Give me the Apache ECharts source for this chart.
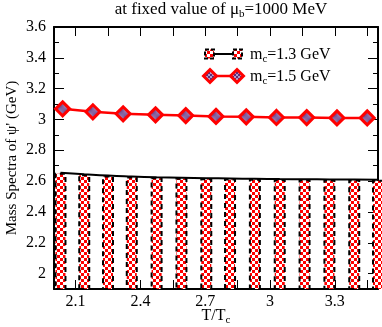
<!DOCTYPE html>
<html>
<head>
<meta charset="utf-8">
<script src="https://cdn.jsdelivr.net/npm/echarts@6/dist/echarts.min.js"></script>
<style>html,body{margin:0;padding:0;background:#fff;}#c{width:382px;height:327px;}</style>
</head>
<body>
<div id="c"></div>
<script>
// Data
const xBlack = [2.03, 2.14, 2.25, 2.36, 2.475, 2.59, 2.705, 2.815, 2.93, 3.045, 3.16, 3.275, 3.39, 3.5];
const yBlack = [2.655, 2.645, 2.636, 2.63, 2.625, 2.622, 2.619, 2.617, 2.615, 2.613, 2.612, 2.611, 2.61, 2.609];
const xRed = [2.04, 2.18, 2.32, 2.47, 2.61, 2.75, 2.89, 3.03, 3.17, 3.31, 3.45];
const yRed = [3.069, 3.05, 3.037, 3.03, 3.025, 3.02, 3.017, 3.013, 3.012, 3.01, 3.01];
const seriesNames = ['m_c=1.3 GeV', 'm_c=1.5 GeV'];
const titleText = 'at fixed value of μ_b=1000 MeV';

function checker(c1, c2, s) {
  const cv = document.createElement('canvas');
  cv.width = s * 2; cv.height = s * 2;
  const g = cv.getContext('2d');
  g.fillStyle = c2; g.fillRect(0, 0, s * 2, s * 2);
  g.fillStyle = c1; g.fillRect(0, 0, s, s); g.fillRect(s, s, s, s);
  return cv;
}
const redChk = { image: checker('#ff0000', '#ffffff', 3), repeat: 'repeat' };
const purpChk = { image: checker('#5a2d7a', '#b49cc8', 2), repeat: 'repeat' };

const FONT = 'Liberation Serif';
const chart = echarts.init(document.getElementById('c'), null, { renderer: 'canvas' });

function sub(s) { // convert a_b into rich text
  return s.replace(/_(\w)/, '{s|$1}');
}

const commonX = {
  type: 'value', min: 2.0, max: 3.5, splitNumber: 5,
  axisLine: { show: true, onZero: false, lineStyle: { color: '#000', width: 2 } },
  axisTick: { show: true, inside: true, length: 9, lineStyle: { color: '#000', width: 1 } },
  minorTick: { show: true, splitNumber: 2, length: 9, lineStyle: { color: '#000', width: 1 } },
  splitLine: { show: false }
};
const commonY = {
  type: 'value', min: 1.9, max: 3.6, splitNumber: 8,
  axisLine: { show: true, onZero: false, lineStyle: { color: '#000', width: 2 } },
  axisTick: { show: true, inside: true, length: 10, lineStyle: { color: '#000', width: 1 } },
  minorTick: { show: true, splitNumber: 2, length: 5, lineStyle: { color: '#000', width: 1 } },
  splitLine: { show: false }
};
const SUBRICH = { s: { fontFamily: FONT, fontSize: 11, padding: [9, 0, 0, 0], color: '#000' } };

const option = {
  animation: false,
  backgroundColor: '#fff',
  textStyle: { fontFamily: FONT },
  grid: { left: 54, right: 4, top: 27, bottom: 38, outerBoundsMode: 'none', containLabel: false },
  title: {
    text: sub(titleText), left: 216, textAlign: 'center', top: -5,
    textStyle: { fontFamily: FONT, fontSize: 17, fontWeight: 'normal', color: '#000', rich: SUBRICH }
  },
  xAxis: [
    Object.assign({}, commonX, {
      position: 'bottom',
      name: 'T/T{s|c}', nameLocation: 'middle', nameGap: 17, nameMoveOverlap: false,
      nameTextStyle: { fontFamily: FONT, fontSize: 16, color: '#000', rich: SUBRICH },
      axisLabel: { fontFamily: FONT, fontSize: 16, color: '#000', margin: 5, showMinLabel: false, showMaxLabel: false,
        formatter: v => String(Math.round(v * 10) / 10) }
    }),
    Object.assign({}, commonX, { position: 'top', axisLabel: { show: false } })
  ],
  yAxis: [
    Object.assign({}, commonY, {
      position: 'left',
      name: "Mass Spectra of ψ' (GeV)", nameLocation: 'middle', nameGap: 34, nameMoveOverlap: false,
      nameTextStyle: { fontFamily: FONT, fontSize: 15, color: '#000' },
      axisLabel: { fontFamily: FONT, fontSize: 16, color: '#000', margin: 8, showMinLabel: false,
        formatter: v => String(Math.round(v * 10) / 10) }
    }),
    Object.assign({}, commonY, { position: 'right', axisLabel: { show: false } })
  ],
  series: [
    {
      name: seriesNames[0] + ' columns', type: 'bar', xAxisIndex: 0, yAxisIndex: 0,
      barWidth: 12, clip: true,
      data: xBlack.map((x, i) => [x, yBlack[i]]),
      itemStyle: { color: redChk, borderColor: '#000', borderWidth: 2, borderType: [5, 4] },
      z: 1
    },
    {
      name: seriesNames[0], type: 'line', xAxisIndex: 0, yAxisIndex: 0,
      data: xBlack.map((x, i) => [x, yBlack[i]]), smooth: true,
      showSymbol: false, lineStyle: { color: '#000', width: 2 }, z: 3
    },
    {
      name: seriesNames[1], type: 'line', xAxisIndex: 0, yAxisIndex: 0,
      data: xRed.map((x, i) => [x, yRed[i]]),
      symbol: 'diamond', symbolSize: 14,
      lineStyle: { color: '#ff0000', width: 2.5 },
      itemStyle: { color: purpChk, borderColor: '#ff0000', borderWidth: 3 }, z: 4
    }
  ],
  graphic: [
    { type: 'line', shape: { x1: 209, y1: 54, x2: 238, y2: 54 }, style: { stroke: '#000', lineWidth: 2 }, z: 10 },
    { type: 'rect', shape: { x: 205, y: 49.5, width: 9, height: 9 }, style: { fill: redChk, stroke: '#000', lineWidth: 2, lineDash: [4, 2] }, z: 11 },
    { type: 'rect', shape: { x: 233, y: 49.5, width: 9, height: 9 }, style: { fill: redChk, stroke: '#000', lineWidth: 2, lineDash: [4, 2] }, z: 11 },
    { type: 'text', x: 250, y: 55, style: { text: sub(seriesNames[0]), fontFamily: FONT, fontSize: 16, fill: '#000', verticalAlign: 'middle',
      rich: { s: { fontFamily: FONT, fontSize: 11, padding: [9, 0, 0, 0], fill: '#000' } } }, z: 11 },
    { type: 'line', shape: { x1: 210, y1: 76, x2: 237, y2: 76 }, style: { stroke: '#ff0000', lineWidth: 2.5 }, z: 10 },
    { type: 'polygon', shape: { points: [[210, 69.5], [216.5, 76], [210, 82.5], [203.5, 76]] }, style: { fill: purpChk, stroke: '#ff0000', lineWidth: 3 }, z: 11 },
    { type: 'polygon', shape: { points: [[237, 69.5], [243.5, 76], [237, 82.5], [230.5, 76]] }, style: { fill: purpChk, stroke: '#ff0000', lineWidth: 3 }, z: 11 },
    { type: 'text', x: 250, y: 77, style: { text: sub(seriesNames[1]), fontFamily: FONT, fontSize: 16, fill: '#000', verticalAlign: 'middle',
      rich: { s: { fontFamily: FONT, fontSize: 11, padding: [9, 0, 0, 0], fill: '#000' } } }, z: 11 }
  ]
};
chart.setOption(option);
</script>
</body>
</html>
